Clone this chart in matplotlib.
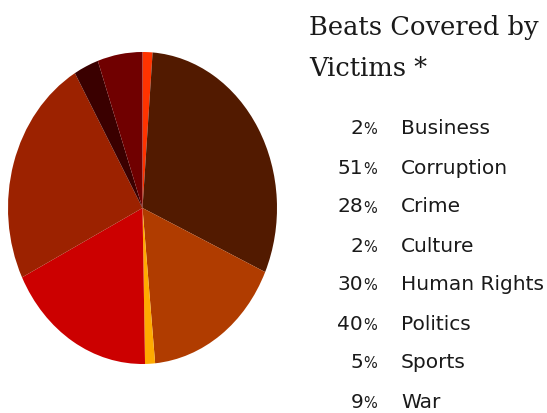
import matplotlib
matplotlib.use("Agg")
import matplotlib.pyplot as plt

beats = ["Business", "Corruption", "Crime", "Culture",
         "Human Rights", "Politics", "Sports", "War"]
shares = [2, 51, 28, 2, 30, 40, 5, 9]
colors = ["#ff3300", "#521a00", "#b03c00", "#ffaa00",
          "#cc0000", "#9c2200", "#3a0000", "#700000"]

W, H = 547, 413
fig = plt.figure(figsize=(W / 100, H / 100), dpi=100)
fig.patch.set_facecolor("white")

# pie is drawn a bit taller than wide, like the original
ax = fig.add_axes([8 / W, (H - 364) / H, 269 / W, 312 / H])
ax.pie(shares, colors=colors, startangle=90, counterclock=False,
       wedgeprops={"linewidth": 0})
ax.set_aspect("auto")
ax.set_xlim(-1, 1)
ax.set_ylim(-1, 1)
ax.axis("off")

serif = ["DejaVu Serif"]
fig.text(309 / W, 1 - 27 / H, "Beats Covered by", fontsize=18.5,
         family=serif, va="center", ha="left", color="#1a1a1a")
fig.text(309 / W, 1 - 68 / H, "Victims *", fontsize=18.5,
         family=serif, va="center", ha="left", color="#1a1a1a")

for i, (beat, pct) in enumerate(zip(beats, shares)):
    y = 1 - (129 + i * 39) / H
    fig.text(363 / W, y, str(pct), fontsize=14.5, ha="right", va="center",
             color="#1a1a1a")
    fig.text(363 / W, y - 1 / H, "%", fontsize=10.5, ha="left", va="center",
             color="#1a1a1a")
    fig.text(401 / W, y, beat, fontsize=14.5, ha="left", va="center",
             color="#1a1a1a")

fig.savefig("out.png", dpi=100)
